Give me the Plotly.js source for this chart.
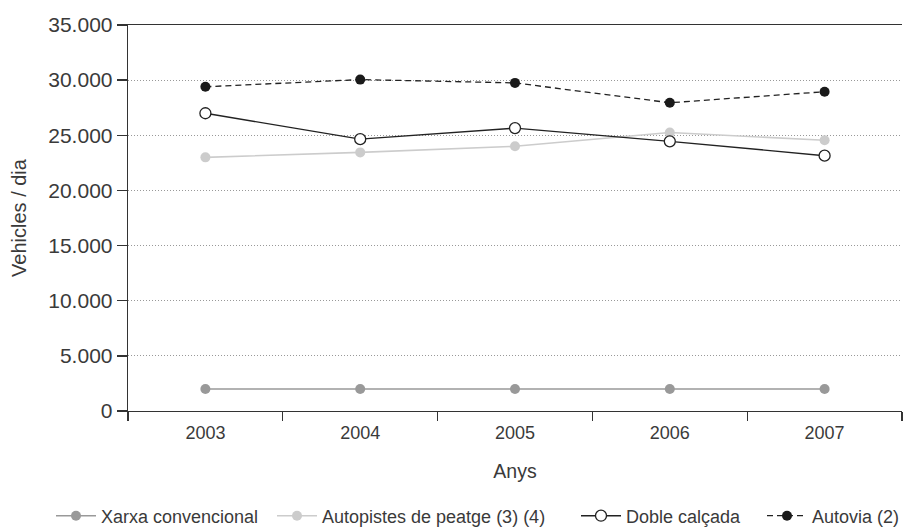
<!DOCTYPE html>
<html>
<head>
<meta charset="utf-8">
<script src="https://cdn.plot.ly/plotly-3.0.1.min.js"></script>
<style>html,body{margin:0;padding:0;background:#fff;}#chart{width:903px;height:529px;}</style>
</head>
<body>
<div id="chart"></div>
<script>
const years = ['2003', '2004', '2005', '2006', '2007'];
const xarxaConvencional = [2000, 2000, 2000, 2000, 2000];
const autopistesPeatge = [23000, 23450, 24000, 25250, 24550];
const dobleCalcada = [27000, 24650, 25650, 24450, 23150];
const autovia = [29400, 30050, 29750, 27950, 28950];
const yTicks = [0, 5000, 10000, 15000, 20000, 25000, 30000, 35000];

const FONT = 'Liberation Sans, Arial, sans-serif';
const TXT = '#3a3a3a';

const traces = [
  {
    x: years, y: xarxaConvencional, name: 'Xarxa convencional', type: 'scatter', mode: 'lines+markers',
    legend: 'legend',
    line: {color: '#999999', width: 1.6},
    marker: {color: '#999999', size: 10}
  },
  {
    x: years, y: autopistesPeatge, name: 'Autopistes de peatge (3) (4)', type: 'scatter', mode: 'lines+markers',
    legend: 'legend2',
    line: {color: '#cccccc', width: 1.6},
    marker: {color: '#cccccc', size: 10}
  },
  {
    x: years, y: dobleCalcada, name: 'Doble calçada', type: 'scatter', mode: 'lines+markers',
    legend: 'legend3',
    line: {color: '#222222', width: 1.4},
    marker: {color: '#ffffff', size: 11, line: {color: '#222222', width: 1.3}}
  },
  {
    x: years, y: autovia, name: 'Autovia (2)', type: 'scatter', mode: 'lines+markers',
    legend: 'legend4',
    line: {color: '#222222', width: 1.3, dash: '6px,4px'},
    marker: {color: '#1a1a1a', size: 10}
  }
];

function leg(px) {
  return {
    orientation: 'h', xref: 'container', yref: 'container',
    x: px / 903, xanchor: 'left', y: 13 / 529, yanchor: 'middle',
    font: {family: FONT, size: 18, color: TXT},
    itemwidth: 40, bgcolor: 'rgba(0,0,0,0)', borderwidth: 0
  };
}

const layout = {
  width: 903, height: 529,
  margin: {l: 128, r: 1, t: 25, b: 118},
  paper_bgcolor: '#ffffff', plot_bgcolor: '#ffffff',
  separators: ',.',
  font: {family: FONT, color: TXT},
  showlegend: true,
  legend: leg(51),
  legend2: leg(272),
  legend3: leg(576),
  legend4: leg(762),
  xaxis: {
    type: 'category', range: [-0.5, 4.5], automargin: false,
    showline: true, linecolor: '#333333', linewidth: 1.3, mirror: true,
    ticks: 'outside', ticklen: 9, tickcolor: '#333333', tickwidth: 1.3, tickson: 'boundaries',
    showgrid: false, zeroline: false, ticklabelstandoff: 5,
    tickfont: {family: FONT, size: 18, color: TXT},
    title: {text: 'Anys', font: {family: FONT, size: 19.5, color: TXT}, standoff: 22}
  },
  yaxis: {
    range: [0, 35000], tickvals: yTicks, tickformat: ',d', automargin: false,
    showline: true, linecolor: '#333333', linewidth: 1.3,
    ticks: 'outside', ticklen: 10, tickcolor: '#333333', tickwidth: 1.3,
    showgrid: true, gridcolor: '#999999', griddash: '1px,2px', gridwidth: 1,
    zeroline: false,
    tickfont: {family: FONT, size: 21, color: TXT},
    title: {text: 'Vehicles / dia', font: {family: FONT, size: 20, color: TXT}, standoff: 16}
  }
};

Plotly.newPlot('chart', traces, layout, {displayModeBar: false, staticPlot: true});
</script>
</body>
</html>
